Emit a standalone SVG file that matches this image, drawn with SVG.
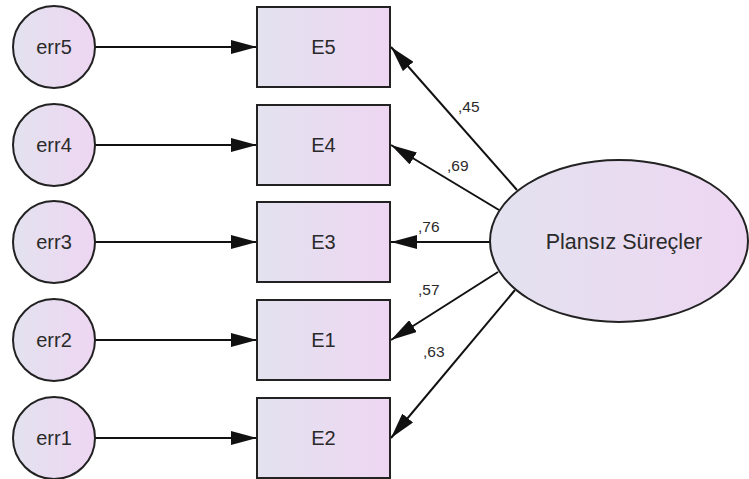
<svg xmlns="http://www.w3.org/2000/svg" width="749" height="479" viewBox="0 0 749 479">
  <defs>
    <linearGradient id="fillGrad" x1="0" y1="0" x2="1" y2="0">
      <stop offset="0" stop-color="#e3e2ef"/>
      <stop offset="1" stop-color="#eed6f2"/>
    </linearGradient>
    <marker id="arrow" viewBox="0 0 26 14" refX="26" refY="7" markerWidth="26" markerHeight="14" markerUnits="userSpaceOnUse" orient="auto">
      <path d="M0,0 L26,7 L0,14 Z" fill="#111"/>
    </marker>
  </defs>
  <style>
    .shape { fill: url(#fillGrad); stroke: #222; stroke-width: 2; }
    .lbl { font-family: "Liberation Sans", Arial, sans-serif; font-size: 20px; fill: #2a2a2a; text-anchor: middle; dominant-baseline: central; }
    .big { font-size: 21.5px; }
    .coef { font-family: "Liberation Sans", Arial, sans-serif; font-size: 15.5px; fill: #2a2a2a; }
    .edge { stroke: #111; stroke-width: 2; fill: none; marker-end: url(#arrow); }
  </style>
  <rect width="749" height="479" fill="#ffffff"/>

  <!-- connectors -->
  <g id="connectors">
    <line class="edge" x1="95" y1="47" x2="257" y2="47"/>
    <line class="edge" x1="95" y1="145" x2="257" y2="145"/>
    <line class="edge" x1="95" y1="242" x2="257" y2="242"/>
    <line class="edge" x1="95" y1="340" x2="257" y2="340"/>
    <line class="edge" x1="95" y1="438" x2="257" y2="438"/>
    <line class="edge" x1="517" y1="190" x2="391" y2="47"/>
    <line class="edge" x1="499" y1="210" x2="391" y2="145"/>
    <line class="edge" x1="490" y1="242" x2="391" y2="242"/>
    <line class="edge" x1="498" y1="272" x2="391" y2="340"/>
    <line class="edge" x1="515" y1="290" x2="391" y2="438"/>
    <text class="coef" x="458" y="112">,45</text>
    <text class="coef" x="447" y="171">,69</text>
    <text class="coef" x="418" y="232">,76</text>
    <text class="coef" x="418" y="295">,57</text>
    <text class="coef" x="423" y="357">,63</text>
  </g>

  <!-- error terms -->
  <g id="err5"><circle class="shape" cx="54" cy="47" r="41"/><text class="lbl" x="54" y="47">err5</text></g>
  <g id="err4"><circle class="shape" cx="54" cy="145" r="41"/><text class="lbl" x="54" y="145">err4</text></g>
  <g id="err3"><circle class="shape" cx="54" cy="242" r="41"/><text class="lbl" x="54" y="242">err3</text></g>
  <g id="err2"><circle class="shape" cx="54" cy="340" r="41"/><text class="lbl" x="54" y="340">err2</text></g>
  <g id="err1"><circle class="shape" cx="54" cy="438" r="41"/><text class="lbl" x="54" y="438">err1</text></g>

  <!-- observed variables -->
  <g id="E5"><rect class="shape" x="257" y="7" width="133" height="80"/><text class="lbl" x="323.5" y="47">E5</text></g>
  <g id="E4"><rect class="shape" x="257" y="105" width="133" height="80"/><text class="lbl" x="323.5" y="145">E4</text></g>
  <g id="E3"><rect class="shape" x="257" y="202" width="133" height="80"/><text class="lbl" x="323.5" y="242">E3</text></g>
  <g id="E1"><rect class="shape" x="257" y="300" width="133" height="80"/><text class="lbl" x="323.5" y="340">E1</text></g>
  <g id="E2"><rect class="shape" x="257" y="398" width="133" height="80"/><text class="lbl" x="323.5" y="438">E2</text></g>

  <!-- latent factor -->
  <g id="PlansizSurecler"><ellipse class="shape" cx="619" cy="241" rx="129" ry="81"/><text class="lbl big" x="624" y="242">Plansız Süreçler</text></g>
</svg>
